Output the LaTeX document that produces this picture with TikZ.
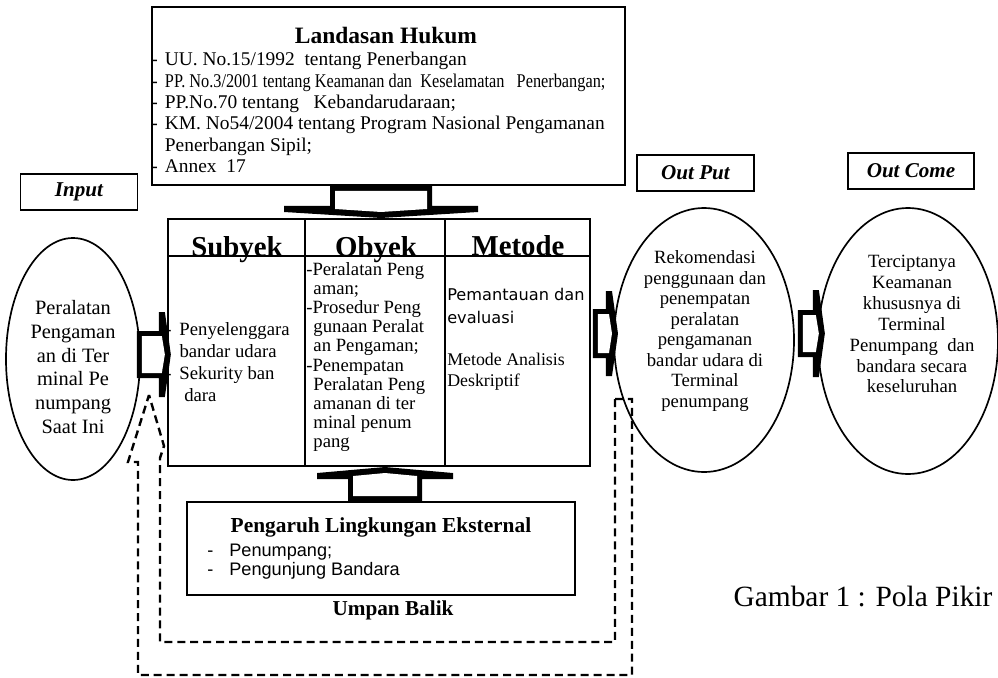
\documentclass[tikz,border=0pt]{standalone}
\usepackage{fontspec}
\usepackage{graphicx}
\setmainfont{Liberation Serif}
\newfontfamily\arialfont{Liberation Sans}
\newfontfamily\verdanafont{DejaVu Sans}
\usetikzlibrary{calc,shapes.geometric}
\newcommand{\pxl}{0.025cm}
\tikzset{
  framebox/.style={draw, line width=1.4pt, inner sep=0pt},
  labelbox/.style={
    draw,
    line width=1.2pt,
    inner sep=0pt,
    minimum width=117*\pxl,
    minimum height=36*\pxl,
    font=\fontsize{15}{17}\selectfont\bfseries\itshape
  },
  oval/.style={draw, ellipse, line width=1.2pt, inner sep=0pt},
  ovaltext/.style={align=center, inner sep=0pt},
  headtext/.style={font=\fontsize{20.5}{22}\selectfont\bfseries, inner sep=0pt},
  celltext/.style={align=left, inner sep=0pt, font=\fontsize{13.3}{13.6}\selectfont},
  tableline/.style={line width=1.4pt},
  feedback/.style={line width=1.7pt, dash pattern=on 5.7pt off 3.5pt},
  pics/blockarrow/.style n args={3}{% stem length, stem half width, bar half width
    code={
      \fill (0,-#2) -- (#1,-#2) -- (#1,-#3) -- (#1+6,-#3) -- (#1+12,0)
        -- (#1+6,#3) -- (#1,#3) -- (#1,#2) -- (0,#2) -- cycle;
      \fill[white] (5,-#2+5) -- (#1+3,-#2+5) -- (#1+6,0) -- (#1+3,#2-5)
        -- (5,#2-5) -- cycle;
    }
  }
}

\begin{document}
\begin{tikzpicture}[x=0.025cm, y=-0.025cm]
  \useasboundingbox (0,0) rectangle (998,677);

  % landasan hukum
  \node[framebox, minimum width=473*\pxl, minimum height=178*\pxl] (hukum) at (388.5,96) {};
  \node[inner sep=0pt, font=\fontsize{16.7}{19}\selectfont\bfseries] (hukumtitle) at (386,35) {Landasan Hukum};
  \node[anchor=west, inner sep=0pt, font=\fontsize{13.8}{15.2}\selectfont] (hukumlist) at (151,115) {%
    \begin{tabular}{@{}l@{\hspace{0.18cm}}l@{}}
      - & UU. No.15/1992\ \ tentang Penerbangan\\
      - & \scalebox{0.84}[1]{PP. No.3/2001 tentang Keamanan dan\ \ Keselamatan\ \ \ Penerbangan;}\\
      - & PP.No.70 tentang\ \ \ Kebandarudaraan;\\
      - & KM. No54/2004 tentang Program Nasional Pengamanan\\
        & Penerbangan Sipil;\\
      - & Annex\ \ 17
    \end{tabular}};

  % tabel subyek obyek metode
  \node[framebox, minimum width=422*\pxl, minimum height=247*\pxl] (tabel) at (379,342.5) {};
  \draw[tableline] (tabel.north west) ++(138,0) -- ++(0,247);
  \draw[tableline] (tabel.north west) ++(278,0) -- ++(0,247);
  \draw[tableline] (tabel.north west) ++(0,38) -- ++(422,0);
  \node[headtext, anchor=base] (subyek) at (237,256) {Subyek};
  \node[headtext, anchor=base] (obyek) at (376,256) {Obyek};
  \node[headtext, anchor=base] (metode) at (518,255) {Metode};

  \node[celltext, anchor=west, font=\fontsize{13.3}{15.6}\selectfont] (subyektext) at (165,364) {%
    \begin{tabular}{@{}l@{\hspace{0.2cm}}l@{}}
      - & Penyelenggara\\
        & bandar udara\\
      - & Sekurity ban\\
        & \hspace*{0.12cm}dara
    \end{tabular}};
  \node[celltext, anchor=west] (obyektext) at (306,357) {%
    -Peralatan Peng\\
    \hspace*{0.18cm}aman;\\
    -Prosedur Peng\\
    \hspace*{0.18cm}gunaan Peralat\\
    \hspace*{0.18cm}an Pengaman;\\
    -Penempatan\\
    \hspace*{0.18cm}Peralatan Peng\\
    \hspace*{0.18cm}amanan di ter\\
    \hspace*{0.18cm}minal penum\\
    \hspace*{0.18cm}pang};
  \node[celltext, anchor=west, font=\fontsize{11.5}{16.3}\verdanafont] (metodetext) at (447,306) {%
    Pemantauan dan\\evaluasi};
  \node[celltext, anchor=west, font=\fontsize{12.7}{15}\selectfont] (analisis) at (447,372) {%
    Metode Analisis\\Deskriptif};

  % input, output, outcome
  \node[labelbox] (inputlabel) at (79,192) {Input};
  \node[labelbox] (outputlabel) at (695.5,173) {Out Put};
  \node[labelbox, minimum width=126*\pxl] (outcomelabel) at (911,171) {Out Come};

  \node[oval, minimum width=134*\pxl, minimum height=242*\pxl] (input) at (73,359) {};
  \node[ovaltext, font=\fontsize{14.5}{17}\selectfont] (inputtext) at (73,367) {%
    Peralatan\\Pengaman\\an di Ter\\minal Pe\\numpang\\Saat Ini};
  \node[oval, minimum width=180*\pxl, minimum height=264*\pxl] (output) at (704,340) {};
  \node[ovaltext, font=\fontsize{13.3}{14.6}\selectfont] (outputtext) at (705,331) {%
    Rekomendasi\\penggunaan dan\\penempatan\\peralatan\\pengamanan\\bandar udara di\\Terminal\\penumpang};
  \node[oval, minimum width=180*\pxl, minimum height=266*\pxl] (outcome) at (908,341) {};
  \node[ovaltext, font=\fontsize{13.3}{14.9}\selectfont] (outcometext) at (912,324) {%
    Terciptanya\\Keamanan\\khususnya di\\Terminal\\Penumpang\ \ dan\\bandara secara\\keseluruhan};

  % pengaruh lingkungan
  \node[framebox, minimum width=388*\pxl, minimum height=93*\pxl] (pengaruh) at (381,548.5) {};
  \node[inner sep=0pt, font=\fontsize{15.2}{17}\selectfont\bfseries] (pengaruhtitle) at (381,527) {Pengaruh Lingkungan Eksternal};
  \node[anchor=west, inner sep=0pt, font=\fontsize{12.9}{14.2}\arialfont] (pengaruhlist) at (207,562) {%
    \begin{tabular}{@{}l@{\hspace{0.4cm}}l@{}}
      - & Penumpang;\\
      - & Pengunjung Bandara
    \end{tabular}};
  \node[inner sep=0pt, font=\fontsize{15.1}{17}\selectfont\bfseries] (umpan) at (393,610) {Umpan Balik};
  \node[inner sep=0pt, font=\fontsize{20.9}{23}\selectfont] (caption) at (863,597) {Gambar 1 : Pola Pikir};

  % block arrows
  \pic[rotate=-90] at ($(hukum.south)+(-7.5,0)$) {blockarrow={20}{51}{97}};
  \pic[rotate=90] at ($(pengaruh.north)+(4,0)$) {blockarrow={22}{37}{68}};
  \pic at ($(input.east)+(-4,-4.5)$) {blockarrow={22}{23.5}{42.5}};
  \pic at ($(tabel.east)+(2,-9)$) {blockarrow={13}{24.5}{42.5}};
  \pic at ($(output.east)+(3,-6.5)$) {blockarrow={15}{23.5}{43.5}};

  % umpan balik
  \coordinate (fbtop) at (615,399);
  \coordinate (fbtip) at (149,395);
  \draw[feedback] (fbtop) -- (632,399) -- (632,675) -- (138,675) -- (138,462) -- (128,462) -- (fbtip);
  \draw[feedback] (fbtop) -- (615,642) -- (160,642) -- (160,458) -- (164,446) -- (fbtip);
\end{tikzpicture}
\end{document}
